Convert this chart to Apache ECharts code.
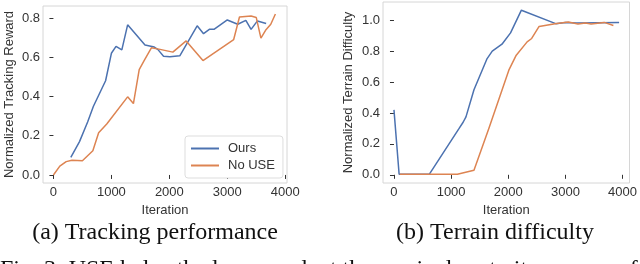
<!DOCTYPE html>
<html><head><meta charset="utf-8">
<script src="https://cdn.jsdelivr.net/npm/echarts@6/dist/echarts.min.js"></script>
<style>html,body{margin:0;padding:0;background:#fff}#c{width:640px;height:264px}</style>
</head><body><div id="c"></div>
<script>
// Data
const seriesNames = ['Ours', 'No USE'];
const trackOurs = [[300,0.09],[450,0.17],[590,0.27],[690,0.35],[900,0.48],[1000,0.62],[1080,0.655],[1180,0.637],[1280,0.765],[1580,0.662],[1740,0.652],[1800,0.64],[1900,0.605],[2010,0.603],[2180,0.607],[2480,0.76],[2590,0.72],[2690,0.742],[2770,0.742],[3000,0.79],[3180,0.768],[3320,0.788],[3410,0.742],[3520,0.785],[3670,0.772]];
const trackNoUse = [[0,0],[110,0.045],[220,0.068],[320,0.075],[500,0.072],[680,0.123],[780,0.215],[920,0.26],[1280,0.398],[1380,0.364],[1480,0.537],[1560,0.58],[1690,0.648],[1840,0.64],[2060,0.626],[2290,0.683],[2580,0.583],[3110,0.69],[3210,0.805],[3410,0.81],[3500,0.802],[3580,0.697],[3660,0.737],[3750,0.768],[3830,0.82]];
const terrOurs = [[0,0.42],[90,0.004],[620,0.004],[1140,0.3],[1210,0.34],[1260,0.375],[1400,0.55],[1630,0.752],[1720,0.80],[1890,0.845],[2040,0.918],[2230,1.065],[2830,0.978],[3000,0.985],[3200,0.982],[3940,0.985]];
const terrNoUse = [[100,0.004],[1110,0.004],[1400,0.03],[1660,0.30],[2010,0.677],[2140,0.774],[2330,0.86],[2410,0.882],[2540,0.96],[2820,0.978],[3050,0.988],[3220,0.976],[3350,0.982],[3450,0.976],[3680,0.986],[3840,0.966]];
const xTicks = [0,1000,2000,3000,4000];
const yTicksTrack = [0,0.2,0.4,0.6,0.8];
const yTicksTerr = [0,0.2,0.4,0.6,0.8,1.0];
const xName = 'Iteration';
const yNameTrack = 'Normalized Tracking Reward';
const yNameTerr = 'Normalized Terrain Difficulty';
const captionA = '(a) Tracking performance';
const captionB = '(b) Terrain difficulty';
const figText = 'Fig. 3: USE helps the learner adapt the curriculum to its progress faster and more stably.';

const colors = ['#4c72b0', '#dd8452'];
const lab = {color:'#333', fontSize:13, fontFamily:'Liberation Sans, Arial, sans-serif'};

function xAxis(gi, min, max){
  return {type:'value', gridIndex:gi, min:min, max:max, name:xName, nameLocation:'middle', nameGap:21,
    nameTextStyle:lab, axisLine:{show:false}, splitLine:{show:false},
    axisTick:{show:true, length:4, lineStyle:{color:'#333'}, customValues:xTicks},
    axisLabel:Object.assign({margin:3, customValues:xTicks, formatter:v=>String(v)}, lab)};
}
function yAxis(gi, min, max, ticks, name, gap){
  return {type:'value', gridIndex:gi, min:min, max:max, name:name, nameLocation:'middle', nameGap:gap,
    nameTextStyle:lab, axisLine:{show:false}, splitLine:{show:false},
    axisTick:{show:true, length:4, lineStyle:{color:'#333'}, customValues:ticks},
    axisLabel:Object.assign({margin:3, customValues:ticks, formatter:v=>v.toFixed(1)}, lab)};
}
function line(name, data, xi, ci){
  return {name:name, type:'line', xAxisIndex:xi, yAxisIndex:xi, data:data, symbol:'none',
    lineStyle:{color:colors[ci], width:1.5}, itemStyle:{color:colors[ci]}, animation:false};
}

const chart = echarts.init(document.getElementById('c'), null, {renderer:'canvas'});
chart.setOption({
  animation:false,
  grid:[
    {left:43, top:6, width:244, height:177, show:true, borderColor:'#d6d6d6', borderWidth:1, backgroundColor:'transparent'},
    {left:383, top:2, width:249, height:181, show:true, borderColor:'#d6d6d6', borderWidth:1, backgroundColor:'transparent'}
  ],
  xAxis:[xAxis(0,-180,4030), xAxis(1,-192,4122)],
  yAxis:[yAxis(0,-0.041,0.861,yTicksTrack,yNameTrack,27), yAxis(1,-0.053,1.118,yTicksTerr,yNameTerr,28)],
  legend:{show:true, orient:'vertical', left:185, top:136, width:94, padding:[6,8,6,6], itemGap:4,
    itemWidth:28, itemHeight:2, icon:'rect', borderColor:'#ddd', borderWidth:1, borderRadius:3,
    backgroundColor:'#fff', data:seriesNames, textStyle:Object.assign({padding:[0,0,0,4]}, lab)},
  series:[line(seriesNames[0],trackOurs,0,0), line(seriesNames[1],trackNoUse,0,1),
          line(seriesNames[0],terrOurs,1,0), line(seriesNames[1],terrNoUse,1,1)],
  graphic:[
    {type:'text', style:{text:captionA, x:155, y:233, align:'center', verticalAlign:'middle', font:'24px "Liberation Serif", serif', fill:'#111'}},
    {type:'text', style:{text:captionB, x:495, y:233, align:'center', verticalAlign:'middle', font:'24px "Liberation Serif", serif', fill:'#111'}},
    {type:'text', style:{text:figText, x:0, y:258, align:'left', verticalAlign:'top', font:'24px "Liberation Serif", serif', fill:'#111'}}
  ]
});
</script></body></html>
